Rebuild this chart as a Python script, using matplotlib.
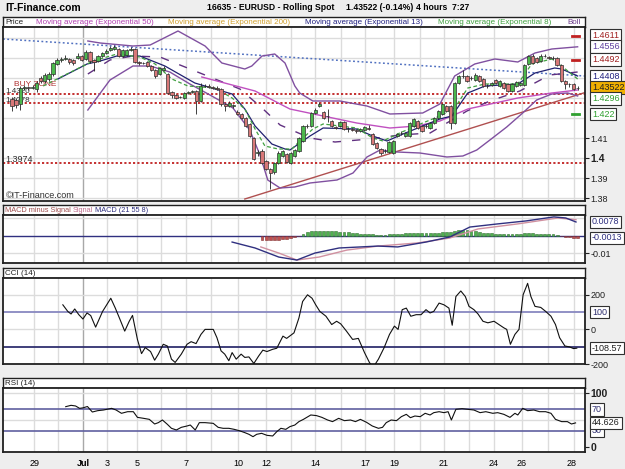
import numpy as np
import matplotlib
matplotlib.use("Agg")
import matplotlib.pyplot as plt

plt.rcParams['font.family'] = ['Liberation Sans', 'DejaVu Sans']

# 4 hour candles, EURUSD
opens = [1.4295, 1.429, 1.427, 1.435, 1.4355, 1.435, 1.4345, 1.440, 1.4385, 1.4395,
         1.442, 1.447, 1.449, 1.4495, 1.4495, 1.449, 1.450, 1.451, 1.4495, 1.453,
         1.449, 1.4485, 1.451, 1.4525, 1.454, 1.4545, 1.4545, 1.451, 1.4515, 1.454,
         1.4545, 1.448, 1.4475, 1.448, 1.446, 1.444, 1.442, 1.444, 1.442, 1.433,
         1.4315, 1.4305, 1.430, 1.4325, 1.433, 1.4335, 1.4285, 1.436, 1.4362, 1.4355,
         1.435, 1.4345, 1.427, 1.426, 1.426, 1.423, 1.422, 1.420, 1.417, 1.410,
         1.4025, 1.4035, 1.3985, 1.3945, 1.393, 1.3975, 1.401, 1.402, 1.3975, 1.401,
         1.4035, 1.4085, 1.416, 1.416, 1.4225, 1.426, 1.423, 1.421, 1.4185, 1.4155,
         1.416, 1.418, 1.4145, 1.4145, 1.414, 1.4135, 1.414, 1.415, 1.412, 1.4075,
         1.4045, 1.4035, 1.403, 1.4025, 1.411, 1.4125, 1.411, 1.411, 1.416, 1.4185,
         1.416, 1.416, 1.415, 1.4175, 1.420, 1.422, 1.426, 1.426, 1.4175, 1.4375,
         1.441, 1.441, 1.440, 1.439, 1.441, 1.4395, 1.436, 1.4365, 1.439, 1.436,
         1.4375, 1.437, 1.4335, 1.436, 1.4365, 1.4365, 1.447, 1.451, 1.450, 1.4485,
         1.451, 1.4505, 1.450, 1.450, 1.4465, 1.4385, 1.437, 1.437, 1.435]
closes = [1.426, 1.4265, 1.435, 1.4355, 1.435, 1.4355, 1.4375, 1.4385, 1.4415, 1.442,
          1.4475, 1.449, 1.4495, 1.450, 1.448, 1.4475, 1.451, 1.449, 1.453, 1.4485,
          1.448, 1.451, 1.4525, 1.4535, 1.455, 1.4555, 1.451, 1.454, 1.454, 1.4545,
          1.448, 1.4475, 1.4474, 1.446, 1.444, 1.441, 1.445, 1.445, 1.4325, 1.4315,
          1.430, 1.4304, 1.4325, 1.433, 1.4335, 1.4285, 1.436, 1.4362, 1.4355, 1.435,
          1.4345, 1.427, 1.426, 1.4275, 1.4265, 1.422, 1.420, 1.416, 1.411, 1.3995,
          1.403, 1.3975, 1.3945, 1.3925, 1.3975, 1.4025, 1.4035, 1.398, 1.4025, 1.404,
          1.410, 1.416, 1.4162, 1.4225, 1.424, 1.427, 1.420, 1.4212, 1.416, 1.415,
          1.418, 1.4145, 1.4147, 1.414, 1.4135, 1.4145, 1.4155, 1.4145, 1.407, 1.405,
          1.4025, 1.4037, 1.408, 1.4085, 1.412, 1.4127, 1.4125, 1.4175, 1.4195, 1.415,
          1.4135, 1.4162, 1.4175, 1.420, 1.4235, 1.427, 1.4235, 1.4175, 1.4375, 1.441,
          1.4412, 1.4385, 1.4402, 1.4415, 1.4385, 1.436, 1.4362, 1.4375, 1.4375, 1.4385,
          1.435, 1.4335, 1.437, 1.438, 1.4375, 1.4465, 1.451, 1.4475, 1.448, 1.451,
          1.4512, 1.450, 1.4502, 1.4465, 1.4385, 1.437, 1.4368, 1.4345, 1.4352]
highs = [1.4305, 1.430, 1.436, 1.4365, 1.4362, 1.4365, 1.4385, 1.441, 1.4425, 1.443,
         1.448, 1.450, 1.4505, 1.4515, 1.450, 1.4495, 1.4525, 1.4515, 1.454, 1.4535,
         1.4495, 1.4515, 1.453, 1.4545, 1.456, 1.4565, 1.455, 1.4545, 1.4545, 1.4555,
         1.455, 1.4485, 1.4482, 1.4485, 1.4465, 1.4445, 1.4455, 1.446, 1.4425, 1.4335,
         1.432, 1.4312, 1.433, 1.4335, 1.434, 1.434, 1.4375, 1.437, 1.4368, 1.4362,
         1.436, 1.435, 1.4275, 1.4285, 1.4272, 1.424, 1.4225, 1.4205, 1.4175, 1.4105,
         1.404, 1.4045, 1.399, 1.395, 1.398, 1.4035, 1.404, 1.4025, 1.403, 1.4045,
         1.4105, 1.4165, 1.417, 1.423, 1.425, 1.428, 1.4235, 1.4245, 1.419, 1.416,
         1.4185, 1.4185, 1.4155, 1.415, 1.4145, 1.415, 1.416, 1.4165, 1.4125, 1.408,
         1.405, 1.4045, 1.4085, 1.409, 1.4125, 1.4135, 1.413, 1.418, 1.420, 1.419,
         1.4165, 1.417, 1.418, 1.4205, 1.424, 1.4275, 1.4265, 1.4265, 1.438, 1.4415,
         1.444, 1.4415, 1.441, 1.4425, 1.4415, 1.440, 1.437, 1.438, 1.4395, 1.439,
         1.438, 1.4375, 1.4375, 1.4385, 1.438, 1.447, 1.4515, 1.452, 1.4505, 1.452,
         1.452, 1.451, 1.451, 1.4505, 1.447, 1.439, 1.4375, 1.4375, 1.4358]
lows = [1.4235, 1.425, 1.424, 1.434, 1.4342, 1.4345, 1.433, 1.4375, 1.4375, 1.4385,
        1.441, 1.4465, 1.448, 1.449, 1.447, 1.4465, 1.4495, 1.4485, 1.449, 1.4475,
        1.4435, 1.448, 1.4505, 1.452, 1.4535, 1.454, 1.4505, 1.4505, 1.451, 1.4535,
        1.4475, 1.4465, 1.4468, 1.4455, 1.4435, 1.440, 1.4415, 1.4435, 1.432, 1.430,
        1.4295, 1.4298, 1.4295, 1.432, 1.4325, 1.422, 1.428, 1.4355, 1.435, 1.4345,
        1.434, 1.426, 1.4235, 1.4255, 1.425, 1.4215, 1.4195, 1.4155, 1.4105, 1.399,
        1.401, 1.397, 1.394, 1.3845, 1.392, 1.397, 1.4005, 1.3975, 1.397, 1.4005,
        1.403, 1.408, 1.415, 1.4155, 1.422, 1.4255, 1.4195, 1.418, 1.4155, 1.4145,
        1.4155, 1.414, 1.413, 1.4135, 1.4125, 1.413, 1.4135, 1.414, 1.4065, 1.4045,
        1.4015, 1.4025, 1.4025, 1.402, 1.4105, 1.4115, 1.4105, 1.4105, 1.4155, 1.4145,
        1.413, 1.415, 1.4145, 1.417, 1.4195, 1.4215, 1.423, 1.4145, 1.417, 1.437,
        1.440, 1.438, 1.439, 1.4385, 1.438, 1.4355, 1.435, 1.436, 1.437, 1.4355,
        1.4345, 1.433, 1.433, 1.4355, 1.436, 1.436, 1.4465, 1.447, 1.4475, 1.448,
        1.4505, 1.4495, 1.449, 1.446, 1.438, 1.4345, 1.4355, 1.434, 1.4342]

# overlays (bar index, price)
ema8_x = [7.6, 13.4, 19.8, 25.6, 31.2, 34.9, 39.0, 42.9, 49.5, 53.7, 56.8, 59.3, 61.7, 64.9,
          68.3, 70.2, 73.4, 75.9, 84.1, 88.0, 90.5, 94.6, 100.2, 104.4, 108.0, 111.2, 115.4,
          123.4, 126.8, 131.7, 134.1, 138.0]
ema8_y = [1.436, 1.442, 1.4485, 1.452, 1.4505, 1.447, 1.4395, 1.436, 1.435, 1.430, 1.4245,
          1.4145, 1.406, 1.4045, 1.4045, 1.4085, 1.4145, 1.417, 1.415, 1.410, 1.4085, 1.4125,
          1.4175, 1.421, 1.425, 1.435, 1.437, 1.437, 1.447, 1.4495, 1.446, 1.4395]
ema13_x = [11.2, 18.3, 21.5, 25.6, 31.2, 37.3, 44.6, 49.5, 53.7, 56.8, 59.3, 63.4, 66.6,
           67.8, 72.7, 75.9, 84.1, 88.0, 91.5, 95.4, 100.2, 104.4, 107.3, 111.2, 115.4,
           123.4, 127.6, 132.4, 134.1, 138.0]
ema13_y = [1.4395, 1.447, 1.4485, 1.451, 1.451, 1.446, 1.4375, 1.4345, 1.432, 1.4245, 1.416,
           1.407, 1.4045, 1.404, 1.411, 1.415, 1.4145, 1.411, 1.4085, 1.412, 1.416, 1.4195,
           1.421, 1.4325, 1.436, 1.437, 1.4425, 1.445, 1.4445, 1.441]
ema50_x = [46.3, 59.3, 67.8, 75.9, 84.1, 92.2, 98.8, 104.4, 111.2, 123.4, 131.7, 138.0]
ema50_y = [1.4405, 1.4335, 1.4245, 1.421, 1.4175, 1.415, 1.416, 1.4185, 1.4245, 1.430,
           1.4325, 1.434]
bb_up_x = [18.5, 21.5, 29.5, 33.7, 40.5, 47.1, 51.2, 56.8, 58.5, 61.0, 64.1, 66.6, 69.0,
           70.2, 73.4, 80.0, 86.6, 92.2, 100.2, 104.4, 108.0, 112.9, 117.8, 123.4, 127.6,
           131.7, 138.0]
bb_up_y = [1.4585, 1.4575, 1.456, 1.4565, 1.4635, 1.456, 1.4475, 1.4445, 1.446, 1.451,
           1.452, 1.4475, 1.436, 1.4325, 1.4285, 1.4285, 1.426, 1.422, 1.4225, 1.427, 1.441,
           1.447, 1.4495, 1.448, 1.4525, 1.4545, 1.4556]
bb_lo_x = [18.5, 23.9, 29.5, 33.7, 38.5, 43.4, 48.3, 53.9, 58.0, 60.5, 62.4, 65.4, 69.0,
           72.7, 79.3, 83.2, 86.6, 89.8, 93.9, 99.5, 106.1, 110.0, 113.4, 116.6, 120.7,
           124.6, 128.0, 131.7, 135.6, 138.0]
bb_lo_y = [1.424, 1.439, 1.446, 1.446, 1.443, 1.437, 1.4315, 1.425, 1.414, 1.4015, 1.389,
           1.385, 1.3855, 1.3875, 1.389, 1.3925, 1.4005, 1.404, 1.403, 1.4025, 1.4005, 1.401,
           1.404, 1.409, 1.4155, 1.4225, 1.429, 1.432, 1.4325, 1.431]
bb_mid_x = [18.5, 23.9, 29.5, 36.1, 42.2, 48.3, 55.6, 61.0, 65.4, 72.7, 78.8, 87.3, 94.6,
            102.0, 111.0, 116.6, 123.9, 131.2, 138.0]
bb_mid_y = [1.442, 1.449, 1.451, 1.4505, 1.4455, 1.4405, 1.4345, 1.425, 1.4165, 1.410,
            1.408, 1.4095, 1.4115, 1.4125, 1.4235, 1.4285, 1.4335, 1.4415, 1.443]
levels = [1.4318, 1.4277, 1.3975]

# MACD (21 55 8)
macd_x = [53.7, 59.3, 65.1, 69.5, 73.9, 79.8, 89.3, 94.1, 101.0, 106.8, 111.7, 118.5,
          125.4, 132.2, 135.1, 137.6]
macd_y = [-0.0037, -0.0071, -0.0123, -0.0140, -0.0100, -0.0071, -0.0060, -0.0065, -0.0037,
          -0.0008, 0.0049, 0.0067, 0.0084, 0.0107, 0.0101, 0.0078]
sig_x = [60.7, 65.1, 69.5, 74.9, 81.7, 89.3, 99.0, 106.8, 113.7, 123.4, 133.2, 137.6]
sig_y = [-0.0065, -0.0100, -0.0140, -0.0123, -0.0083, -0.0060, -0.0042, -0.0014, 0.0038,
         0.0067, 0.0101, 0.0091]
hist_start = 61
hist = [-25, -28, -28, -27, -25, -22, -18, -14, -10, -4,
        10, 20, 25, 26, 26, 25, 25, 24, 24, 23, 22, 20, 15, 13, 12, 11, 10, 8, 5, 4,
        4, 8, 10, 11, 12, 13, 14, 15, 14, 14, 14, 15, 16, 17, 18, 18, 20, 27, 30, 31,
        30, 28, 25, 20, 17, 15, 13, 12, 12, 11, 10, 10, 10, 11, 13, 14, 13, 12, 12, 11,
        10, 8, 5, -4, -8, -10, -12, -13]

# CCI (14)
cci_x = [12.4, 13.6, 14.4, 15.3, 16.3, 17.3, 18.3, 19.2, 20.4, 22.1, 24.1, 25.2, 26.2, 27.5,
         28.6, 29.4, 30.6, 31.6, 32.5, 33.8, 34.8, 35.7, 36.9, 37.9, 38.9, 39.8, 41.3, 42.7,
         43.7, 44.9, 46.1, 47.1, 49.1, 50.0, 51.0, 51.9, 52.9, 53.7, 54.7, 55.9, 56.8, 57.8,
         59.0, 60.2, 61.2, 62.2, 63.6, 64.6, 66.1, 67.0, 68.8, 70.0, 70.9, 72.1, 73.2, 74.1,
         75.1, 76.6, 78.0, 79.2, 80.2, 81.6, 83.1, 84.5, 86.0, 87.2, 88.1, 89.4, 90.8, 92.1,
         93.3, 94.2, 95.2, 96.2, 97.3, 98.6, 99.8, 101.0, 102.0, 102.9, 104.2, 105.4, 106.6,
         107.4, 108.3, 109.5, 110.6, 111.5, 112.7, 113.7, 114.9, 116.1, 117.6, 118.8, 120.0,
         120.7, 121.6, 122.7, 123.7, 124.7, 125.8, 126.6, 127.6, 129.0, 130.2, 131.5, 132.6,
         133.6, 134.9, 136.0, 137.0, 137.8]
cci_y = [142, 104, 89, 118, 85, 60, 95, 80, 13, 104, 180, 123, 66, -10,
         47, 81, -58, -140, -105, -128, -178, -143, -86, -96, -172, -191, -143, -86,
         -71, -82, -29, 0, 0, -48, -124, -143, -181, -134, -172, -143, -162, -159,
         -197, -153, -120, -128, -115, -109, -39, -52, -20, 66, 161, 200, 180, 142,
         104, 76, 28, 47, 32, -10, -58, -52, -134, -191, -220, -172, -105, -29,
         19, 0, 114, 123, 76, 85, 85, 114, 95, 104, 152, 142, 123,
         24, 190, 222, 190, 133, 114, 89, 47, 38, 47, 28, 9,
         0, -86, -29, 0, 200, 266, 190, 133, 127, 104, 76, 28,
         -48, -96, -101, -111, -108.57]

# RSI (14)
rsi_x = [13.1, 14.4, 15.5, 16.5, 17.3, 18.4, 19.6, 20.9, 22.3, 24.3, 25.4, 26.7, 28.2, 29.6,
         30.6, 32.1, 33.5, 34.8, 35.7, 36.7, 37.9, 38.9, 40.1, 41.3, 42.7, 43.5, 44.7, 45.7,
         47.1, 49.1, 50.3, 51.5, 52.9, 54.2, 55.4, 56.8, 57.8, 58.8, 59.7, 60.9, 62.2, 63.6,
         64.6, 65.6, 66.8, 67.8, 69.0, 70.0, 71.1, 72.9, 74.3, 75.6, 77.0, 78.2, 79.7, 81.1,
         82.6, 83.8, 85.0, 86.5, 87.9, 89.4, 90.4, 91.3, 92.5, 93.8, 95.0, 96.2, 97.2, 98.3,
         99.6, 100.8, 102.0, 102.9, 104.2, 105.4, 106.4, 107.2, 108.3, 109.8, 111.2, 112.7,
         114.2, 115.6, 117.3, 118.5, 120.0, 121.5, 122.7, 123.4, 124.6, 125.8, 127.3, 128.7,
         130.2, 131.5, 132.6, 134.1, 135.5, 136.5, 137.5]
rsi_y = [74.7, 77.2, 76.0, 71.6, 72.5, 75.0, 64.8, 67.3, 68.5, 71.6, 68.5, 62.4, 65.4, 65.4,
         54.9, 53.1, 51.2, 42.6, 45.1, 50.0, 42.0, 34.6, 31.5, 36.4, 38.9, 40.7, 31.5, 45.1,
         45.1, 43.8, 36.4, 34.6, 34.6, 32.7, 30.3, 26.6, 23.5, 19.1, 23.5, 25.3, 21.6, 20.4,
         28.4, 34.6, 32.7, 37.7, 40.7, 47.0, 51.2, 59.3, 58.1, 54.9, 50.0, 47.0, 53.1, 48.8,
         50.0, 47.0, 51.2, 45.7, 38.9, 34.6, 36.4, 45.1, 50.0, 48.8, 56.2, 60.5, 54.3, 57.4,
         56.2, 62.4, 59.3, 63.6, 65.4, 63.6, 65.4, 50.0, 69.8, 71.0, 69.8, 68.5,
         63.6, 65.4, 62.4, 63.6, 60.5, 54.9, 62.4, 59.3, 71.6, 67.3, 68.5, 65.4,
         65.4, 62.4, 51.2, 47.0, 47.0, 42.6, 44.6]

# day grid, x labels
day_pos = [5.4, 11.2, 17.3, 23.2, 30.5, 36.4, 42.4, 48.5, 55.1, 62.0, 68.0, 73.9, 80.2,
           86.1, 93.2, 99.6, 105.4, 111.5, 117.6, 124.4, 130.7, 137.1]
lab_pos = [5.4, 17.3, 23.2, 30.5, 42.4, 55.1, 62.0, 73.9, 86.1, 93.2, 105.4, 117.6, 124.4, 136.6]
lab_txt = ['29', 'Jul', '3', '5', '7', '10', '12', '14', '17', '19', '21', '24', '26', '28']

W, H = 625, 469
BG = '#eeeeee'
fig = plt.figure(figsize=(W / 100, H / 100), dpi=100, facecolor=BG)
renderer = fig.canvas.get_renderer()


def box(l, t, r, b):
    return [l / W, 1 - b / H, (r - l) / W, (b - t) / H]


def frame(ax, lw=1.3):
    for s in ax.spines.values():
        s.set_color('#202020')
        s.set_linewidth(lw)


def header(t, b):
    ah = fig.add_axes(box(3, t, 585, b))
    ah.set_xlim(3, 585)
    ah.set_ylim(0, 1)
    ah.set_xticks([])
    ah.set_yticks([])
    frame(ah, 1.0)
    return ah


def chain(ah, x0, parts, size=5.8):
    # write coloured pieces one after another along the header
    x = x0
    for txt, col in parts:
        t = ah.text(x, 0.45, txt, fontsize=size, color=col, va='center')
        x += t.get_window_extent(renderer).width + 2


def panel(t, b, ylo, yhi):
    ax = fig.add_axes(box(3, t, 585, b))
    ax.set_xlim(-2.2, 139.8)
    ax.set_ylim(ylo, yhi)
    ax.set_xticks([])
    ax.yaxis.tick_right()
    ax.tick_params(axis='y', length=3, width=0.8, labelsize=6.5, pad=1, colors='#202020')
    for d in day_pos:
        ax.axvline(d, color='#a8a8a8' if d == 17.3 else '#dcdcdc', lw=1, zorder=0)
    frame(ax)
    return ax


def tag(ax, v, txt, col, fc='white', tc=None):
    ax.text(1.012, v, txt, transform=ax.get_yaxis_transform(), fontsize=6.5,
            color=tc or col, va='center', ha='left', clip_on=False,
            bbox=dict(boxstyle='square,pad=0.2', fc=fc, ec='#303030', lw=0.8))


# title row
fig.text(5 / W, 1 - 8 / H, 'IT-Finance.com', fontsize=7.5, fontweight='bold', va='center')
fig.text(207 / W, 1 - 8 / H, '16635 - EURUSD - Rolling Spot', fontsize=6.2, fontweight='bold', va='center')
fig.text(346 / W, 1 - 8 / H, '1.43522 (-0.14%)', fontsize=6.2, fontweight='bold', va='center')
fig.text(416 / W, 1 - 8 / H, '4 hours  7:27', fontsize=6.2, fontweight='bold', va='center')

# ---- price panel
ah = header(17, 27)
for px, txt, col in [(5, 'Price', '#202020'),
                     (36, 'Moving average (Exponential 50)', '#b040b0'),
                     (168, 'Moving average (Exponential 200)', '#d0a030'),
                     (305, 'Moving average (Exponential 13)', '#202080'),
                     (438, 'Moving average (Exponential 8)', '#40a040'),
                     (567, 'Boll', '#6a3a8a')]:
    ah.text(px, 0.45, txt, fontsize=5.8, color=col, va='center')

ax = panel(27, 201, 1.3785, 1.4655)
for g in np.arange(1.38, 1.47, 0.01):
    ax.axhline(g, color='#dcdcdc', lw=1, zorder=0)
ax.set_yticks([1.38, 1.39, 1.40, 1.41])
ax.set_yticklabels(['1.38', '1.39', '1.4', '1.41'])
ax.get_yticklabels()[2].set_fontweight('bold')
ax.get_yticklabels()[2].set_fontsize(7.5)

for v in levels:
    ax.axhline(v, color='#c02020', lw=1.3, ls=(0, (1.2, 1.2)), zorder=1)
ax.text(0.5, 1.4362, 'BUY ZONE', color='#b03030', fontsize=6, zorder=1)
ax.text(-1.6, 1.4324, '1.4320', color='#303030', fontsize=5.8, zorder=1)
ax.text(-1.6, 1.4280, '1.4278', color='#303030', fontsize=5.8, zorder=1)
ax.text(-1.6, 1.3980, '1.3974', color='#303030', fontsize=6.5, zorder=1)
ax.text(-1.6, 1.3800, '\u00a9IT-Finance.com', color='#303030', fontsize=6.5, zorder=1)

ax.plot([-2.2, 139.8], [1.4595, 1.441], color='#5070c0', lw=1.1, ls=(0, (1.2, 1.6)), zorder=2)
ax.plot([56.8, 141.0], [1.3795, 1.4335], color='#b05050', lw=1, zorder=2)
ax.plot(bb_up_x, bb_up_y, color='#8050a0', lw=1, zorder=2)
ax.plot(bb_lo_x, bb_lo_y, color='#8050a0', lw=1, zorder=2)
ax.plot(bb_mid_x, bb_mid_y, color='#603080', lw=1, ls=(0, (6, 8)), zorder=2)
ax.plot(ema50_x, ema50_y, color='#c050c0', lw=1, zorder=2)
ax.plot(ema13_x, ema13_y, color='#202070', lw=0.9, zorder=2)
ax.plot(ema8_x, ema8_y, color='#40a040', lw=0.9, ls=(0, (3, 2)), zorder=2)

idx = np.arange(len(closes))
o = np.array(opens)
c = np.array(closes)
up = c >= o
ax.vlines(idx, lows, highs, color='#202020', lw=0.6, zorder=3)
ax.bar(idx, np.maximum(np.abs(c - o), 0.0002), bottom=np.minimum(o, c), width=0.8,
       color=np.where(up, '#4cb84c', '#d87878'), edgecolor='#303030', lw=0.5, zorder=4)

for v, col in [(1.4611, '#c02020'), (1.4492, '#c02020'), (1.422, '#30a030')]:
    ax.plot([136.6, 138.4], [v, v], color=col, lw=2, zorder=5)

tag(ax, 1.4611, '1.4611', '#a02020')
tag(ax, 1.4556, '1.4556', '#6040a0')
tag(ax, 1.4492, '1.4492', '#a02020')
tag(ax, 1.4408, '1.4408', '#202080')
tag(ax, 1.43522, '1.43522', '#202020', fc='#f0b000')
tag(ax, 1.4296, '1.4296', '#30a030')
tag(ax, 1.422, '1.422', '#30a030')

# ---- MACD panel
ah = header(205, 215)
chain(ah, 5, [('MACD minus Signal', '#a05050'), ('Signal', '#c07090'),
              ('MACD (21 55 8)', '#303080')], size=5.3)

ax = panel(215, 263, -0.0157, 0.0118)
for g in [0.01, -0.01]:
    ax.axhline(g, color='#dcdcdc', lw=1, zorder=0)
ax.axhline(0, color='#303080', lw=1, zorder=1)
hv = np.array(hist) / 10000
hx = np.arange(hist_start, hist_start + len(hv))
ax.bar(hx, hv, width=0.7, color=np.where(hv >= 0, '#50b050', '#c05050'),
       edgecolor=np.where(hv >= 0, '#307030', '#803030'), lw=0.4, zorder=2)
ax.plot(sig_x, sig_y, color='#d090a0', lw=1, zorder=3)
ax.plot(macd_x, macd_y, color='#303080', lw=1, zorder=3)
ax.set_yticks([-0.01])
ax.set_yticklabels(['-0.01'])
tag(ax, 0.0078, '0.0078', '#303080')
tag(ax, -0.0013, '-0.0013', '#303080')

# ---- CCI panel
ah = header(268, 278)
ah.text(5, 0.45, 'CCI (14)', fontsize=5.8, color='#202020', va='center')
ax = panel(278, 364, -194, 297)
for g in [200, 0, -200]:
    ax.axhline(g, color='#dcdcdc', lw=1, zorder=0)
ax.axhline(100, color='#8888c0', lw=1.3, zorder=1)
ax.axhline(-100, color='#303070', lw=1.3, zorder=1)
ax.plot(cci_x, cci_y, color='#101010', lw=0.8, zorder=3)
ax.set_yticks([200, 0, -200])
ax.set_yticklabels(['200', '0', '-200'])
tag(ax, 100, '100', '#303070')
tag(ax, -108.57, '-108.57', '#202020')

# ---- RSI panel
ah = header(378, 388)
ah.text(5, 0.45, 'RSI (14)', fontsize=5.8, color='#202020', va='center')
ax = panel(388, 452, -9.3, 109.3)
ax.axhline(50, color='#dcdcdc', lw=1, zorder=0)
ax.axhline(100, color='#dcdcdc', lw=1, zorder=0)
ax.axhline(70, color='#6060a0', lw=1.2, zorder=1)
ax.axhline(30, color='#6060a0', lw=1.2, zorder=1)
ax.plot(rsi_x, rsi_y, color='#101010', lw=0.8, zorder=3)
ax.set_yticks([100, 0])
ax.set_yticklabels(['100', '0'])
for t in ax.get_yticklabels():
    t.set_fontweight('bold')
    t.set_fontsize(7.5)
tag(ax, 30, '30', '#303070')
tag(ax, 70, '70', '#303070')
tag(ax, 44.626, '44.626', '#202020')

ax.set_xticks(lab_pos)
ax.set_xticklabels(lab_txt)
ax.tick_params(axis='x', length=0, labelsize=6.5, pad=5)
ax.get_xticklabels()[1].set_fontweight('bold')

fig.savefig('out.png', dpi=100, facecolor=BG)
